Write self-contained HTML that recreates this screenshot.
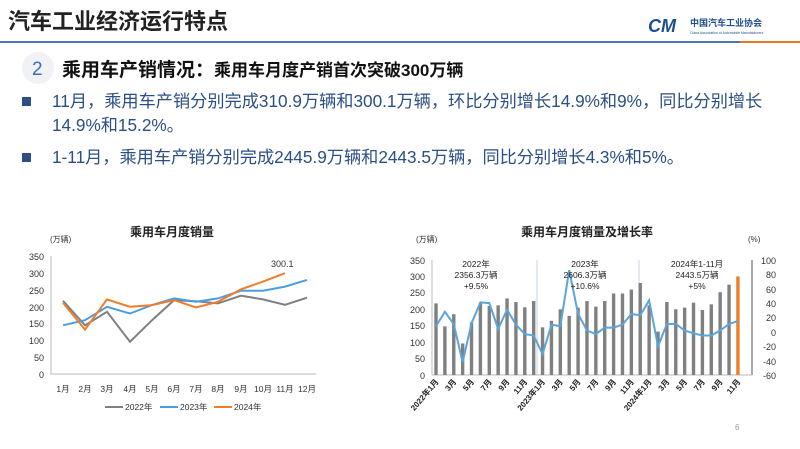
<!DOCTYPE html>
<html><head><meta charset="utf-8"><style>
body{margin:0;background:#fff;}
svg{display:block;font-family:"Liberation Sans","Noto Sans CJK SC",sans-serif;}
</style></head><body>
<svg width="800" height="449" viewBox="0 0 800 449" xmlns="http://www.w3.org/2000/svg">
<rect width="800" height="449" fill="#fff"/>
<text x="8" y="29" font-size="22" font-weight="bold" fill="#222">汽车工业经济运行特点</text>
<text x="648" y="32" font-size="18" font-weight="bold" fill="#1f4e8c" font-style="italic">CM</text>
<text x="690" y="26" font-size="9" font-weight="bold" fill="#1f4e8c">中国汽车工业协会</text>
<text x="690" y="34" font-size="3.5" fill="#1f4e8c">China Association of Automobile Manufacturers</text>
<rect x="0" y="41" width="800" height="2" fill="#4a78b0"/>
<rect x="740" y="41" width="60" height="2" fill="#e87722"/>
<circle cx="38" cy="68" r="16" fill="#f1f2f5"/>
<text x="32" y="75" font-size="19" fill="#3b6fb6">2</text>
<text x="62" y="76" font-size="19" font-weight="bold" fill="#111">乘用车产销情况：<tspan font-size="17">乘用车月度产销首次突破300万辆</tspan></text>
<g font-size="17.2" fill="#2c4f85">
<rect x="22" y="97" width="9" height="9" fill="#2c4f85"/>
<text x="52" y="107">11月，乘用车产销分别完成310.9万辆和300.1万辆，环比分别增长14.9%和9%，同比分别增长</text>
<text x="52" y="131">14.9%和15.2%。</text>
<rect x="22" y="153" width="9" height="9" fill="#2c4f85"/>
<text x="52" y="163">1-11月，乘用车产销分别完成2445.9万辆和2443.5万辆，同比分别增长4.3%和5%。</text>
</g>
<!-- left chart -->
<text x="130" y="236" font-size="12" font-weight="bold" fill="#222">乘用车月度销量</text>
<text x="50" y="242" font-size="8" fill="#333">(万辆)</text>
<g font-size="9" fill="#333" text-anchor="end">
<text x="44" y="260">350</text><text x="44" y="277">300</text><text x="44" y="294">250</text><text x="44" y="311">200</text><text x="44" y="327">150</text><text x="44" y="344">100</text><text x="44" y="361">50</text><text x="44" y="378">0</text>
</g>
<polyline points="51,256 51,374 316,374" fill="none" stroke="#bbb" stroke-width="1"/>
<g font-size="8.5" fill="#333" text-anchor="middle">
<text x="63" y="392">1月</text><text x="85" y="392">2月</text><text x="107" y="392">3月</text><text x="130" y="392">4月</text><text x="152" y="392">5月</text><text x="174" y="392">6月</text><text x="196" y="392">7月</text><text x="218" y="392">8月</text><text x="241" y="392">9月</text><text x="263" y="392">10月</text><text x="285" y="392">11月</text><text x="307" y="392">12月</text>
</g>
<polyline fill="none" stroke="#808080" stroke-width="2" points="63,300.8 85,325.3 107,311.8 130,341.7 152,320.2 174,300.2 196,301.2 218,303.4 241,295.7 263,299.4 285,304.8 307,297.7"/>
<polyline fill="none" stroke="#4a9ee0" stroke-width="2" points="63,325.3 85,320.2 107,306.8 130,313.5 152,305.1 174,298.4 196,301.8 218,298.4 241,290.7 263,290.7 285,286.6 307,279.9"/>
<polyline fill="none" stroke="#ef7d2a" stroke-width="2" points="63,302.8 85,329.6 107,299.4 130,306.8 152,305.1 174,300.1 196,307.5 218,301.8 241,289.3 263,281.6 285,273.2"/>
<text x="271" y="267" font-size="9" fill="#333">300.1</text>
<g font-size="8.5" fill="#333">
<line x1="105" y1="407" x2="123" y2="407" stroke="#808080" stroke-width="2"/><text x="125" y="410">2022年</text>
<line x1="160" y1="407" x2="178" y2="407" stroke="#4a9ee0" stroke-width="2"/><text x="180" y="410">2023年</text>
<line x1="214" y1="407" x2="232" y2="407" stroke="#ef7d2a" stroke-width="2"/><text x="234" y="410">2024年</text>
</g>
<!-- right chart -->
<text x="521" y="236" font-size="12" font-weight="bold" fill="#222">乘用车月度销量及增长率</text>
<text x="416" y="242" font-size="8" fill="#333">(万辆)</text>
<text x="748" y="242" font-size="8" fill="#333">(%)</text>
<g font-size="9" fill="#333" text-anchor="end">
<text x="425" y="264">350</text><text x="425" y="280">300</text><text x="425" y="296">250</text><text x="425" y="313">200</text><text x="425" y="329">150</text><text x="425" y="346">100</text><text x="425" y="362">50</text><text x="425" y="379">0</text>
</g>
<g font-size="9" fill="#333" text-anchor="end">
<text x="776" y="264">100</text><text x="776" y="278">80</text><text x="776" y="293">60</text><text x="776" y="307">40</text><text x="776" y="321">20</text><text x="776" y="336">0</text><text x="776" y="350">-20</text><text x="776" y="365">-40</text><text x="776" y="379">-60</text>
</g>
<line x1="432" y1="260" x2="432" y2="375" stroke="#bbb"/>
<line x1="752" y1="260" x2="752" y2="375" stroke="#555"/>
<line x1="432" y1="375" x2="752" y2="375" stroke="#bbb"/>
<line x1="537" y1="260" x2="537" y2="375" stroke="#9bb8d8" stroke-width="0.6"/>
<line x1="639" y1="260" x2="639" y2="375" stroke="#9bb8d8" stroke-width="0.6"/>
<g id="bars" fill="#808080"></g>
<polyline id="gl" fill="none" stroke="#5aa5dc" stroke-width="2"/>
<g font-size="8.5" fill="#222" text-anchor="middle">
<text x="476" y="267">2022年</text><text x="476" y="278">2356.3万辆</text><text x="476" y="289">+9.5%</text>
<text x="585" y="267">2023年</text><text x="585" y="278">2606.3万辆</text><text x="585" y="289">+10.6%</text>
<text x="697" y="267">2024年1-11月</text><text x="697" y="278">2443.5万辆</text><text x="697" y="289">+5%</text>
</g>
<g id="xl" font-size="8" fill="#222" font-weight="bold"></g>
<text x="735" y="430" font-size="8" fill="#999">6</text>
<script>
var v=[218,148,185,96,160,220,210,212,233,222,206,225,145,165,200,180,205,225,208,225,248,248,260,280,212,132,222,200,205,220,198,215,252,275,300];
var g=[8,28,11,-42,12,41,40,4,31,10,-3,-5,-31,10,8,86,25,2,-3,6,6,10,25,23,44,-20,11,11,2,-2,-5,-5,2,11,15];
var ns="http://www.w3.org/2000/svg",b=document.getElementById('bars'),pts=[],xl=document.getElementById('xl');
var lab={0:"2022年1月",2:"3月",4:"5月",6:"7月",8:"9月",10:"11月",12:"2023年1月",14:"3月",16:"5月",18:"7月",20:"9月",22:"11月",24:"2024年1月",26:"3月",28:"5月",30:"7月",32:"9月",34:"11月"};
for(var i=0;i<35;i++){var x=436+i*8.88,h=v[i]*0.3286;var r=document.createElementNS(ns,'rect');
r.setAttribute('x',x-1.7);r.setAttribute('y',375-h);r.setAttribute('width',3.4);r.setAttribute('height',h);
if(i==34)r.setAttribute('fill','#ef7d2a');b.appendChild(r);pts.push(x+','+(260+(100-g[i])*0.719).toFixed(1));
if(lab[i]){var t=document.createElementNS(ns,'text');t.setAttribute('text-anchor','end');t.setAttribute('transform','translate('+(x+3)+',382) rotate(-50)');t.textContent=lab[i];xl.appendChild(t);}}
document.getElementById('gl').setAttribute('points',pts.join(' '));
</script>
</svg>
</body></html>
